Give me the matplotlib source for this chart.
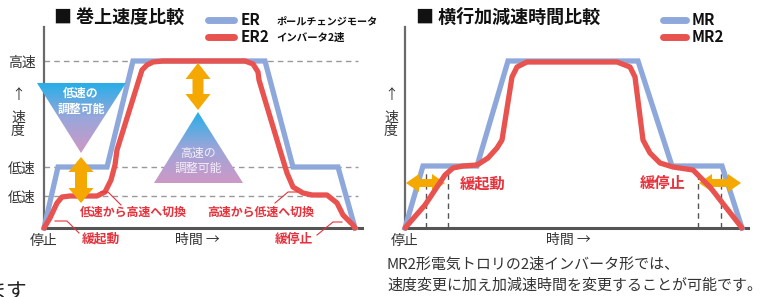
import numpy as np
import matplotlib
matplotlib.use("Agg")
import matplotlib.pyplot as plt
from matplotlib.patches import Polygon
from matplotlib.colors import LinearSegmentedColormap

plt.rcParams['font.family'] = ['Noto Sans CJK JP', 'DejaVu Sans']

# ---------------- data (time / speed in arbitrary units) ----------------
# Left: hoist speed comparison
er_t = [0, 14, 63, 89, 221, 249, 294, 311]
er_v = [0, 61, 61, 167, 167, 61, 61, 0]
er2_t = [0, 6, 13, 18, 26, 53, 61, 67, 71, 73, 98, 103, 109, 119, 201, 209, 214, 215,
         236, 243, 249, 259, 268, 283, 293, 299, 309, 311]
er2_v = [0, 10, 25, 31, 32, 32, 36, 48, 63, 78, 158, 163, 166, 167, 167, 164, 156, 148,
         78, 55, 41, 35, 33, 33, 25, 13, 3, 0]
left_levels = [32, 61, 167]
left_level_labels = ["低速", "低速", "高速"]

# Right: traverse accel/decel time comparison
mr_t = [0, 18, 72, 103, 233, 267, 317, 337]
mr_v = [0, 62, 62, 167, 167, 62, 62, 0]
mr2_t = [0, 20, 40, 48, 58, 72, 83, 92, 97, 107, 112, 122, 212, 225, 230, 238,
         245, 255, 268, 288, 305, 337]
mr2_v = [0, 23, 53, 60, 62, 63, 70, 80, 88, 151, 161, 166, 166, 161, 151, 88,
         75, 65, 61, 58, 41, 0]
right_marks = [21, 43, 293, 316]

BLUE = "#8FA8DC"
RED = "#E8524F"
ORANGE = "#F5A900"
TXT = "#333333"
RTXT = "#E6323C"

W, H = 765, 297
fig = plt.figure(figsize=(W / 100, H / 100), dpi=100)


def add_data_axes(x0, x1, ytop, ybot):
    return fig.add_axes([x0 / W, (H - ybot) / H, (x1 - x0) / W, (ybot - ytop) / H])


def style(ax, xmax):
    ax.set_xlim(0, xmax)
    ax.set_ylim(0, 201)
    for s in ("top", "right"):
        ax.spines[s].set_visible(False)
    ax.spines["left"].set_color("#6a6a6a")
    ax.spines["left"].set_linewidth(1.6)
    ax.spines["bottom"].set_color("#555555")
    ax.spines["bottom"].set_linewidth(2.2)
    ax.patch.set_alpha(0)


# ---- left chart ----
ax1 = add_data_axes(44, 362, 27, 228)
style(ax1, 318)
ax1.hlines(left_levels, 0, 314, colors="#999999", lw=1.0, linestyles=(0, (4, 3)), zorder=1)
ax1.plot(er_t, er_v, color=BLUE, lw=3.8, solid_joinstyle="miter", clip_on=False, zorder=3)
ax1.plot(er2_t, er2_v, color=RED, lw=3.8, solid_joinstyle="round", solid_capstyle="round",
         clip_on=False, zorder=4)
ax1.set_yticks(left_levels)
ax1.set_yticklabels(left_level_labels, fontsize=10, color=TXT)
ax1.set_xticks([0])
ax1.set_xticklabels(["停止"], fontsize=10, color=TXT)
ax1.tick_params(length=0, pad=4)
ax1.tick_params(axis="y", pad=6)

# ---- right chart ----
ax2 = add_data_axes(405, 748, 27, 228)
style(ax2, 343)
ax2.vlines(right_marks, 0, 55, colors="#555555", lw=1.0, linestyles=(0, (4, 3)), zorder=1)
ax2.plot(mr_t, mr_v, color=BLUE, lw=3.8, solid_joinstyle="miter", clip_on=False, zorder=3)
ax2.plot(mr2_t, mr2_v, color=RED, lw=3.8, solid_joinstyle="round", solid_capstyle="round",
         clip_on=False, zorder=5)
ax2.set_yticks([])
ax2.set_xticks([0])
ax2.set_xticklabels(["停止"], fontsize=10, color=TXT)
ax2.tick_params(length=0, pad=4)

# ---------------- overlay (pixel coordinates) ----------------
ov = fig.add_axes([0, 0, 1, 1])
ov.axis("off")
ov.patch.set_alpha(0)
ov.set_xlim(0, W)
ov.set_ylim(H, 0)

grad = LinearSegmentedColormap.from_list("g", ["#27AEE8", "#9AA6DA", "#CE98C6"])


def gradient_triangle(pts):
    pts = np.array(pts, float)
    poly = Polygon(pts, closed=True, facecolor="none", edgecolor="none")
    ov.add_patch(poly)
    x0, x1 = pts[:, 0].min(), pts[:, 0].max()
    y0, y1 = pts[:, 1].min(), pts[:, 1].max()
    im = ov.imshow(np.linspace(0, 1, 200).reshape(-1, 1), cmap=grad, aspect="auto",
                   extent=[x0, x1, y1, y0], origin="upper", zorder=2)
    im.set_clip_path(poly)


def add_arrow(pts, target, z):
    p = Polygon(pts, closed=True, facecolor=ORANGE, edgecolor="none", zorder=z,
                transform=ov.transData, clip_on=False)
    target.add_artist(p)


def vdouble(cx, y0, y1, hl, hw, bw, target, z):
    pts = [(cx, y0), (cx + hw / 2, y0 + hl), (cx + bw / 2, y0 + hl), (cx + bw / 2, y1 - hl),
           (cx + hw / 2, y1 - hl), (cx, y1), (cx - hw / 2, y1 - hl), (cx - bw / 2, y1 - hl),
           (cx - bw / 2, y0 + hl), (cx - hw / 2, y0 + hl)]
    add_arrow(pts, target, z)


def hdouble(cy, x0, x1, hl, hw, bw, target, z):
    pts = [(x0, cy), (x0 + hl, cy - hw / 2), (x0 + hl, cy - bw / 2), (x1 - hl, cy - bw / 2),
           (x1 - hl, cy - hw / 2), (x1, cy), (x1 - hl, cy + hw / 2), (x1 - hl, cy + bw / 2),
           (x0 + hl, cy + bw / 2), (x0 + hl, cy + hw / 2)]
    add_arrow(pts, target, z)


gradient_triangle([(37, 83), (126, 83), (81, 153)])
gradient_triangle([(198, 112), (243, 183), (154, 183)])
vdouble(81, 157, 203, 15, 25, 12, ov, 3)
vdouble(198, 63, 110, 16, 25, 11, ov, 3)
# right-panel arrows sit between the blue and the red curve
hdouble(183, 406, 445, 13, 18, 8, ax2, 4)
hdouble(183, 699, 741, 13, 18, 8, ax2, 4)

ov.text(81, 93, "低速の", color="white", fontsize=8.6, fontweight="bold", ha="center", va="center", zorder=4)
ov.text(81, 109, "調整可能", color="white", fontsize=8.6, fontweight="bold", ha="center", va="center", zorder=4)
ov.text(198, 153, "高速の", color="#F4EEF8", fontsize=8.6, ha="center", va="center", zorder=4)
ov.text(198, 168, "調整可能", color="#F4EEF8", fontsize=8.6, ha="center", va="center", zorder=4)

# titles
ov.text(54, 17, "■ 巻上速度比較", fontsize=13, fontweight="bold", color="#111111", ha="left", va="center")
ov.text(416, 17, "■ 横行加減速時間比較", fontsize=13, fontweight="bold", color="#111111", ha="left", va="center")

# legends
ov.plot([208, 234], [20, 20], color=BLUE, lw=5, solid_capstyle="round")
ov.plot([208, 234], [37, 37], color=RED, lw=5, solid_capstyle="round")
ov.text(241, 20, "ER", fontsize=11, fontweight="bold", color="#111111", ha="left", va="center")
ov.text(277, 21, "ポールチェンジモータ", fontsize=7.3, fontweight="bold", color="#111111", ha="left", va="center")
ov.text(241, 37, "ER2", fontsize=11, fontweight="bold", color="#111111", ha="left", va="center")
ov.text(276, 38, "インバータ2速", fontsize=7.5, fontweight="bold", color="#111111", ha="left", va="center")

ov.plot([663, 686], [20, 20], color=BLUE, lw=5, solid_capstyle="round")
ov.plot([663, 686], [37, 37], color=RED, lw=5, solid_capstyle="round")
ov.text(692, 20, "MR", fontsize=11, fontweight="bold", color="#111111", ha="left", va="center")
ov.text(692, 37, "MR2", fontsize=11, fontweight="bold", color="#111111", ha="left", va="center")

# axis captions
for x in (18, 391):
    ov.text(x, 95, "↑", fontsize=10, color=TXT, ha="center", va="center")
    ov.text(x, 118, "速", fontsize=10, color=TXT, ha="center", va="center")
    ov.text(x, 131, "度", fontsize=10, color=TXT, ha="center", va="center")
ov.text(175, 240, "時間 →", fontsize=10, color=TXT, ha="left", va="center")
ov.text(546, 240, "時間 →", fontsize=10, color=TXT, ha="left", va="center")

# red annotations left
ov.text(80, 212, "低速から高速へ切換", fontsize=8.6, fontweight="bold", color=RTXT, ha="left", va="center")
ov.text(207, 212, "高速から低速へ切換", fontsize=8.6, fontweight="bold", color=RTXT, ha="left", va="center")
ov.text(82, 239, "緩起動", fontsize=9.2, fontweight="bold", color=RTXT, ha="left", va="center")
ov.text(275, 239, "緩停止", fontsize=9.2, fontweight="bold", color=RTXT, ha="left", va="center")
for xs, ys in (([55, 67, 79], [221, 221, 233]),
               ([101, 108, 121], [192, 192, 205]),
               ([275, 288, 297], [203, 192, 192]),
               ([317, 333, 342], [235, 222, 222])):
    ov.plot(xs, ys, color=RTXT, lw=0.8)

# red annotations right
ov.text(483, 183, "緩起動", fontsize=11, fontweight="bold", color=RTXT, ha="center", va="center")
ov.text(663, 183, "緩停止", fontsize=11, fontweight="bold", color=RTXT, ha="center", va="center")

# caption
ov.text(387, 265, "MR2形電気トロリの2速インバータ形では、", fontsize=10.8, color=TXT, ha="left", va="center")
ov.text(387, 286, "速度変更に加え加減速時間を変更することが可能です。", fontsize=10.8, color=TXT, ha="left", va="center")
ov.text(27, 292, "ます", fontsize=15, color="#222222", ha="right", va="center")

ov.set_xlim(0, W)
ov.set_ylim(H, 0)

fig.savefig("out.png", dpi=100)
